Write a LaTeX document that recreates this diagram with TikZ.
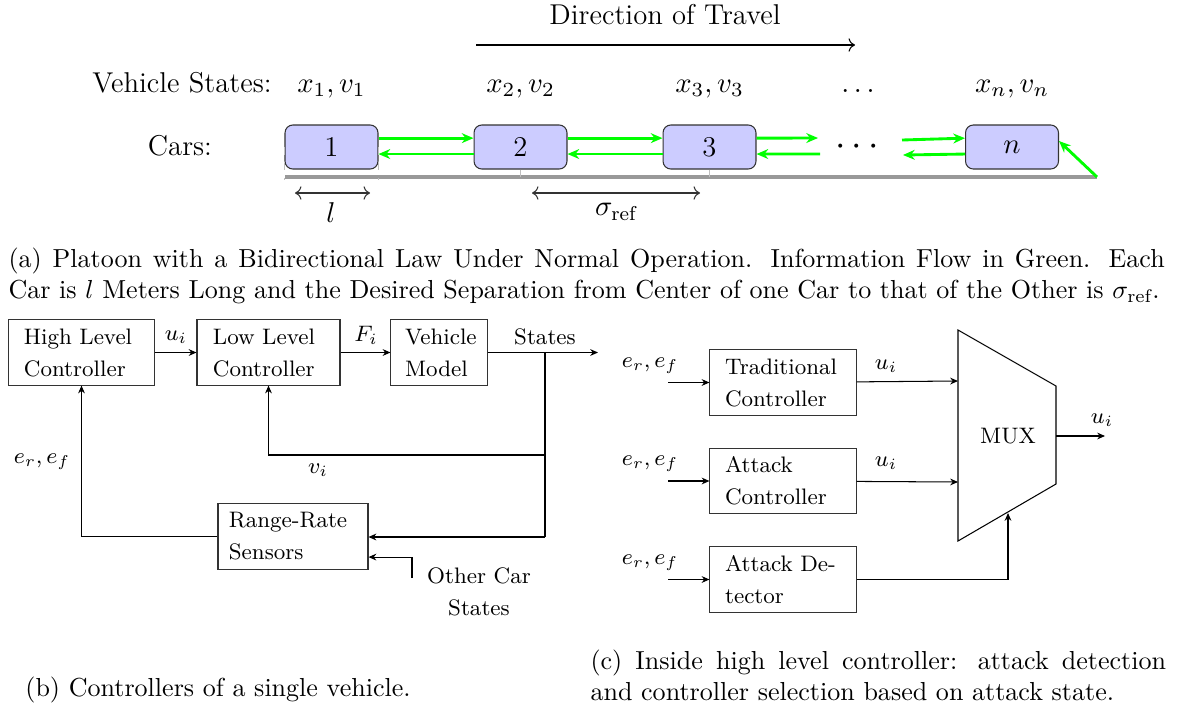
\RequirePackage{fix-cm}
\documentclass[tikz,border=0pt]{standalone}
\usepackage{fontspec}
\usetikzlibrary{arrows.meta,calc}

\newcommand\capfont{\fontsize{10pt}{12pt}\selectfont}
\newcommand\topfont{\fontsize{11pt}{13.6pt}\selectfont}
\newcommand\blkfont{\fontsize{8.6pt}{12.3pt}\selectfont}

\tikzset{
    topf/.style={font=\topfont},
    car/.style={draw=black!80, rounded corners=3pt, fill=blue!20, minimum width=35.7pt, minimum height=16.9pt, inner sep=0pt, font=\topfont},
    flow/.style={green, line width=1.1pt, -{Stealth[length=4.5pt,width=3.8pt]}},
    blk/.style={draw=black!80, rectangle, inner ysep=0pt, align=left, minimum height=25pt},
    sig/.style={-{Stealth[length=3pt,width=2.6pt]}},
    capt/.style={font=\capfont, anchor=base west, align=justify, inner sep=0pt},
}

\begin{document}
\begin{tikzpicture}[x=0.384pt,y=-0.384pt, every node/.style={font=\blkfont}]
\useasboundingbox (0,0) rectangle (1180,708);

% (a) platoon
\node[topf] (dir) at (665,15) {Direction of Travel};
\coordinate (dirA) at (476,45);
\coordinate (dirB) at (855,45);
\draw[->] (dirA) -- (dirB);

\node[topf, anchor=base] (vs) at (182,92) {Vehicle States:};
\node[topf, anchor=base] (cl) at (180,155) {Cars:};
\foreach \nm/\x/\lab/\st in {1/331.5/1/{x_1, v_1}, 2/520.5/2/{x_2, v_2}, 3/709.5/3/{x_3, v_3}, n/1012/$n$/{x_n, v_n}}
{
    \node[topf, anchor=base] (st\nm) at (\x,92) {$\st$};
    \node[car] (car\nm) at (\x,147) {\lab};
}
\node[topf, anchor=base] (stdots) at (858,92) {$\dots$};
\node[font=\fontsize{14.4pt}{17pt}\selectfont, anchor=base] (dots) at (857,155) {$\cdots$};

\coordinate (roadL) at (285,177);
\coordinate (roadR) at (1097,177);
\draw[gray!80, line width=1.2pt] (roadL) -- (roadR);
\foreach \c in {2,3}
    \draw[gray!50] (car\c.south) -- (car\c.south |- roadL);
\draw[gray!50, dashed] (car1.west) -- ++(0,33);
\draw[gray!50, dashed] (car1.east) -- ++(0,33);

\foreach \a/\b in {1/2, 2/3}
{
    \draw[flow] ([yshift=3.4pt]car\a.east) -- ([yshift=3.4pt]car\b.west);
    \draw[flow] ([yshift=-2.7pt]car\b.west) -- ([yshift=-2.7pt]car\a.east);
}
\coordinate (d1) at (818,138);
\coordinate (d2) at (820,154);
\coordinate (d3) at (902,140);
\coordinate (d4) at (903,155);
\draw[flow] ([yshift=3.4pt]car3.east) -- (d1);
\draw[flow] (d2) -- ([yshift=-2.7pt]car3.east);
\draw[flow] (d3) -- ([yshift=3.4pt]carn.west);
\draw[flow] ([yshift=-2.7pt]carn.west) -- (d4);
\draw[flow] (roadR) -- ([yshift=2.3pt]carn.east);

\coordinate (lA) at (295,193);
\coordinate (lB) at (370,193);
\draw[<->, black!80] (lA) -- (lB);
\node[topf] (lenl) at (331,213) {$l$};
\coordinate (sA) at (532,193);
\coordinate (sB) at (700,193);
\draw[<->, black!80] (sA) -- (sB);
\node[topf] (lens) at (616,212) {$\sigma_{\mathrm{ref}}$};

\node[capt, text width=444pt] (capa) at (8,267)
    {(a) Platoon with a Bidirectional Law Under Normal Operation. Information Flow in Green. Each\linebreak
    Car is $l$ Meters Long and the Desired Separation from Center of one Car to that of the Other is $\sigma_{\mathrm{ref}}$.};

% (b) single vehicle
\node[blk, text width=44.2pt, inner xsep=6.1pt] (hlc) at (81.5,352.5) {High Level\\Controller};
\node[blk, text width=42.7pt, inner xsep=6.1pt] (llc) at (268.5,352.5) {Low Level\\Controller};
\node[blk, text width=26.1pt, inner xsep=5.4pt] (veh) at (439,352.5) {Vehicle\\Model};
\node[blk, text width=49.2pt, inner xsep=4.2pt, minimum height=25.7pt] (rrs) at (293,536.5) {Range-Rate\\Sensors};

\coordinate (out) at (598,352.5);
\coordinate (jn) at (545,352.5);
\coordinate (jv) at (545,455);
\coordinate (js) at (545,537);
\coordinate (oc) at (412,578);
\draw[sig] (hlc) -- (llc);
\draw[sig] (llc) -- (veh);
\draw[sig] (veh) -- (out);
\draw (jn) -- (js);
\draw[sig] (jv) -| (llc.south);
\draw[sig] (js) -- (js -| rrs.east);
\draw[sig] (rrs.west) -| (hlc.south);
\draw[sig] (oc) |- ([yshift=-7.9pt]rrs.east);

\node (lu) at (176,337) {$u_i$};
\node (lF) at (366,335) {$F_i$};
\node (lst) at (545,337) {States};
\node (lv) at (318,470) {$v_i$};
\node (le) at (42,462) {$e_r, e_f$};
\node[align=center] (ocs) at (479,592) {Other Car\\States};

\node[font=\capfont, anchor=base] (capb) at (218,696) {(b) Controllers of a single vehicle.};

% (c) high level controller
\foreach \nm/\y/\txt in {trad/382.5/{Traditional\\Controller}, atc/481/{Attack\\Controller}, atd/579.5/{Attack De-\\tector}}
{
    \node[blk, text width=44.5pt, inner xsep=5.8pt, minimum height=25.3pt] (\nm) at (783,\y) {\txt};
    \coordinate (in\nm) at (668,\y);
    \draw[sig] (in\nm) -- (\nm);
    \node (e\nm) at (650,{\y-17}) {$e_r, e_f$};
}

\coordinate (m1) at (958,330);
\coordinate (m2) at (1056,386);
\coordinate (m3) at (1056,484);
\coordinate (m4) at (958,541);
\draw (m1) -- (m2) -- (m3) -- (m4) -- cycle;
\node (mux) at (1008,436) {MUX};
\coordinate (mi1) at (958,381);
\coordinate (mi2) at (958,482);
\coordinate (msel) at (1008,513);
\coordinate (mout) at (1056,436);
\coordinate (mend) at (1105,436);
\draw[sig] (trad) -- (mi1);
\draw[sig] (atc) -- (mi2);
\draw[sig] (atd) -| (msel);
\draw[sig] (mout) -- (mend);
\node (lu1) at (886,366) {$u_i$};
\node (lu2) at (886,463) {$u_i$};
\node (lu3) at (1102,420) {$u_i$};

\node[capt, text width=221pt] (capc) at (590,669)
    {(c) Inside high level controller: attack detection and controller selection based on attack state.};
\end{tikzpicture}
\end{document}
